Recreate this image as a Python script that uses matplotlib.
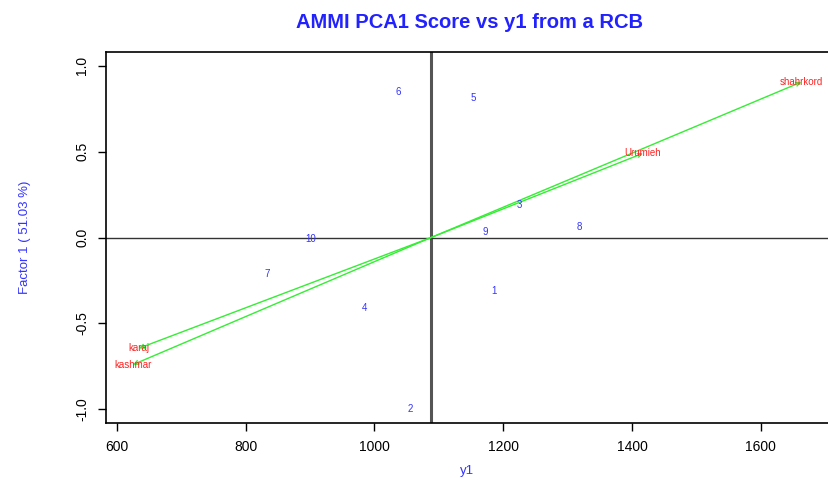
import matplotlib.pyplot as plt

plt.rcParams['font.family'] = ['Liberation Sans', 'DejaVu Sans']

# genotype scores (blue numbers)
genotypes = ['1', '2', '3', '4', '5', '6', '7', '8', '9', '10']
geno_y1 = [1186, 1055, 1225, 985, 1153, 1037, 833, 1318, 1172, 901]
geno_pca1 = [-0.31, -1.00, 0.19, -0.41, 0.81, 0.85, -0.21, 0.06, 0.03, -0.01]

# environment scores (red labels with arrows)
envs = ['karaj', 'kashmar', 'Urumieh', 'shahrkord']
env_y1 = [634, 625, 1417, 1663]
env_pca1 = [-0.645, -0.74, 0.49, 0.905]

grand_mean = 1088

fig = plt.figure(figsize=(8.29, 4.8), dpi=100)
ax = fig.add_axes([106 / 829, 57 / 480, 723 / 829, 371 / 480])

ax.axvline(grand_mean, color='#555555', lw=2.2, zorder=1)
ax.axhline(0, color='#333333', lw=1.0, zorder=1)

for x, y in zip(env_y1, env_pca1):
    ax.annotate('', xy=(x, y), xytext=(grand_mean, 0),
                arrowprops=dict(arrowstyle='->', color='#33ee33', lw=1.0,
                                shrinkA=0, shrinkB=0, mutation_scale=7))

for lab, x, y in zip(genotypes, geno_y1, geno_pca1):
    ax.text(x, y, lab, color='#3333ff', fontsize=7, ha='center', va='center')

for lab, x, y in zip(envs, env_y1, env_pca1):
    ax.text(x, y, lab, color='#ff2222', fontsize=7, ha='center', va='center')

ax.set_xlim(583, 1706)
ax.set_ylim(-1.08, 1.08)
ax.set_xticks([600, 800, 1000, 1200, 1400, 1600])
ax.set_yticks([-1.0, -0.5, 0.0, 0.5, 1.0])
ax.set_yticklabels(['-1.0', '-0.5', '0.0', '0.5', '1.0'], rotation=90, va='center')
ax.tick_params(direction='out', length=6, width=1, labelsize=10, pad=6)
ax.spines['right'].set_visible(False)
for s in ['left', 'top', 'bottom']:
    ax.spines[s].set_linewidth(1.2)

ax.set_xlabel('y1', color='#3333ff', fontsize=9.5, labelpad=8)
ax.set_ylabel('Factor 1 ( 51.03 %)', color='#3333ff', fontsize=9.5, labelpad=32)
fig.text(470 / 829, 1 - 23 / 480, 'AMMI PCA1 Score vs y1 from a RCB',
         color='#2222ff', fontsize=14.5, fontweight='bold', ha='center', va='center')

plt.savefig('out.png', dpi=100)
plt.close()
